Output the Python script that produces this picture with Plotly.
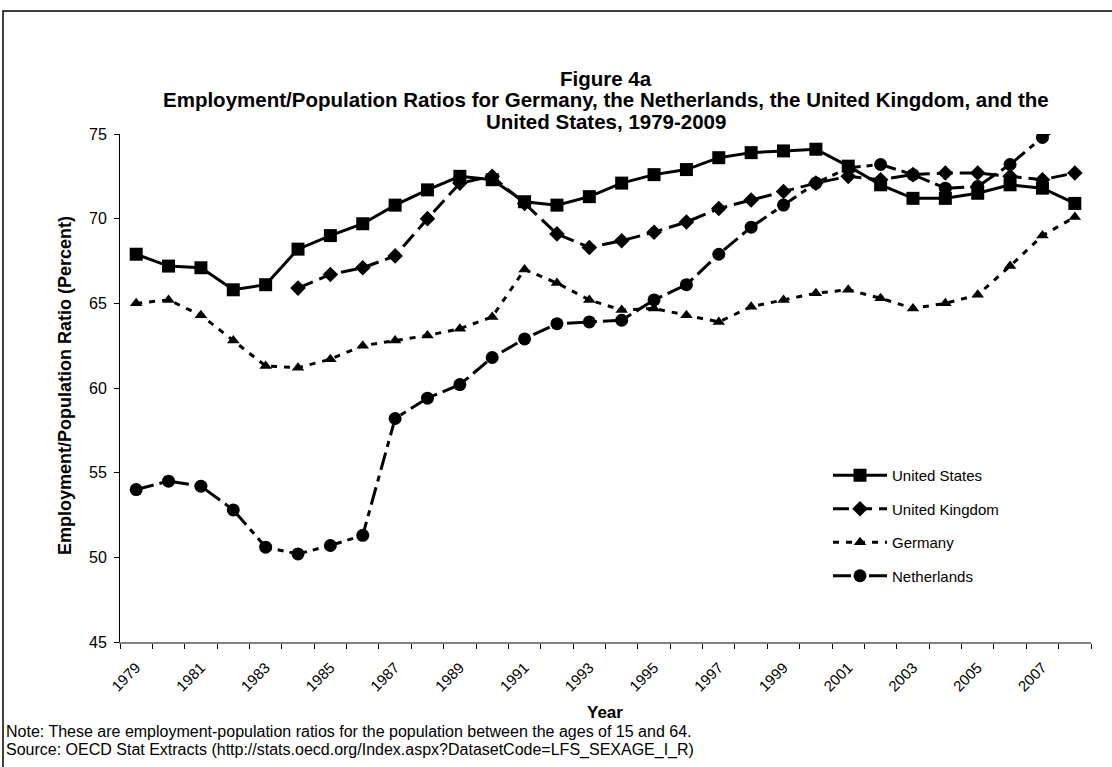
import plotly.graph_objects as go

# categories
YEARS = list(range(1979, 2009))
TICK_YEARS = YEARS[::2]

# employment/population ratios, percent
us = [67.9, 67.2, 67.1, 65.8, 66.1, 68.2, 69.0, 69.7, 70.8, 71.7,
      72.5, 72.3, 71.0, 70.8, 71.3, 72.1, 72.6, 72.9, 73.6, 73.9,
      74.0, 74.1, 73.1, 72.0, 71.2, 71.2, 71.5, 72.0, 71.8, 70.9]
uk = [None, None, None, None, None, 65.9, 66.7, 67.1, 67.8, 70.0,
      72.1, 72.5, 70.9, 69.1, 68.3, 68.7, 69.2, 69.8, 70.6, 71.1,
      71.6, 72.1, 72.5, 72.3, 72.6, 72.7, 72.7, 72.5, 72.3, 72.7]
germany = [65.0, 65.2, 64.3, 62.8, 61.3, 61.2, 61.7, 62.5, 62.8, 63.1,
           63.5, 64.2, 67.0, 66.2, 65.2, 64.6, 64.7, 64.3, 63.9, 64.8,
           65.2, 65.6, 65.8, 65.3, 64.7, 65.0, 65.5, 67.2, 69.0, 70.1]
netherlands = [54.0, 54.5, 54.2, 52.8, 50.6, 50.2, 50.7, 51.3, 58.2, 59.4,
               60.2, 61.8, 62.9, 63.8, 63.9, 64.0, 65.2, 66.1, 67.9, 69.5,
               70.8, 72.1, 73.0, 73.2, 72.6, 71.8, 71.9, 73.2, 74.8, 75.9]

FONT = "Arial, 'Liberation Sans', sans-serif"
W, H = 1112, 767
L, R, T, B = 120, 1091, 134, 642


def px(x):
    return (x - L) / (R - L)


def py(y):
    return (B - y) / (B - T)


series = [
    ("United States", us, "square", 13, "solid"),
    ("United Kingdom", uk, "diamond", 12, "16px,7px"),
    ("Germany", germany, "triangle-up", 11, "6px,7px"),
    ("Netherlands", netherlands, "circle", 13, "18px,6px,6px,6px"),
]

fig = go.Figure()
for i, (name, vals, sym, size, dash) in enumerate(series):
    fig.add_trace(go.Scatter(
        x=YEARS, y=vals, name=name, mode="lines+markers",
        line=dict(color="black", width=3, dash=dash),
        marker=dict(symbol=sym, size=size, color="black"),
        legendgroup=f"g{i}",
        connectgaps=False,
    ))

fig.update_layout(
    width=W, height=H,
    margin=dict(l=L, r=W - R, t=T, b=H - B, pad=0),
    paper_bgcolor="white", plot_bgcolor="white",
    font=dict(family=FONT, size=15, color="black"),
    showlegend=True,
    legend=dict(
        x=px(828), y=py(459), xanchor="left", yanchor="top",
        bgcolor="rgba(0,0,0,0)", font=dict(size=15),
        tracegroupgap=11, itemwidth=54,
    ),
    xaxis=dict(
        range=[1978.5, 2008.5], showgrid=False, zeroline=False,
        tickmode="array", tickvals=TICK_YEARS, ticktext=[str(y) for y in TICK_YEARS],
        tickangle=-45, tickfont=dict(size=15), ticklabelstandoff=9,
        ticks="", showline=True, linecolor="#808080", linewidth=2,
        minor=dict(tick0=1978.5, dtick=1, ticks="outside", ticklen=5,
                   tickcolor="black", tickwidth=1, showgrid=False),
    ),
    yaxis=dict(
        range=[45, 75], dtick=5, showgrid=False, zeroline=False,
        ticks="outside", ticklen=5, tickcolor="black",
        showline=True, linecolor="black", linewidth=1,
        tickfont=dict(size=16), ticklabelstandoff=4,
    ),
)

title_lines = [
    ("Figure 4a", 79),
    ("Employment/Population Ratios for Germany, the Netherlands, the United Kingdom, and the", 100),
    ("United States, 1979-2009", 121),
]
for text, y in title_lines:
    fig.add_annotation(text=f"<b>{text}</b>", xref="paper", yref="paper",
                       x=px(606), y=py(y), showarrow=False,
                       xanchor="center", yanchor="middle", font=dict(size=20.5))

fig.add_annotation(text="<b>Employment/Population Ratio (Percent)</b>", xref="paper", yref="paper",
                   x=px(65), y=py(386), showarrow=False, textangle=-90,
                   xanchor="center", yanchor="middle", font=dict(size=18))
fig.add_annotation(text="<b>Year</b>", xref="paper", yref="paper",
                   x=px(605), y=py(712), showarrow=False,
                   xanchor="center", yanchor="middle", font=dict(size=17))
notes = [
    ("Note: These are employment-population ratios for the population between the ages of 15 and 64.", 731),
    ("Source: OECD Stat Extracts (http://stats.oecd.org/Index.aspx?DatasetCode=LFS_SEXAGE_I_R)", 750),
]
for text, y in notes:
    fig.add_annotation(text=text, xref="paper", yref="paper",
                       x=px(4), y=py(y), showarrow=False,
                       xanchor="left", yanchor="middle", font=dict(size=16))

# outer chart frame
fig.add_shape(type="rect", xref="paper", yref="paper",
              x0=px(3), x1=px(1120), y0=py(780), y1=py(11),
              line=dict(color="black", width=1.5), layer="below")

# drop the page's default body margin so the chart sits at the window origin
fig.write_html("out.html", config={"displayModeBar": False},
               post_script="document.body.style.margin='0px';")
